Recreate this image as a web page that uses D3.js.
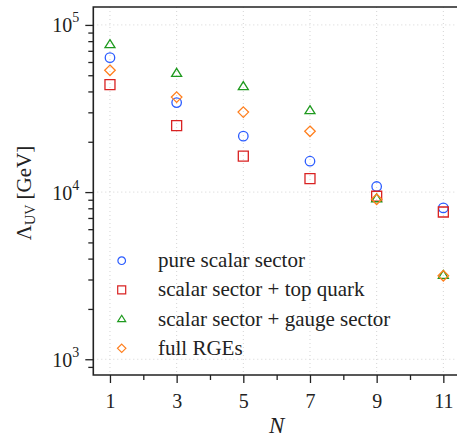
<!DOCTYPE html>
<html>
<head>
<meta charset="utf-8">
<script src="https://cdn.jsdelivr.net/npm/d3@7"></script>
<style>
  html, body { margin: 0; padding: 0; background: #fff; }
  svg { display: block; }
  text { font-family: "Liberation Serif", "Times New Roman", serif; fill: #222; }
</style>
</head>
<body>
<svg id="chart" width="457" height="439"></svg>
<script>
// ---- data ----
const N = [1, 3, 5, 7, 9, 11];
const pureScalar   = [63700, 34300, 21600, 15300, 10800, 8040];
const topQuark     = [43900, 25000, 16400, 12050, 9440, 7600];
const gaugeSector  = [76400, 51500, 42900, 30800, 9150, 3180];
const fullRGEs     = [53500, 37000, 30100, 23100, 9060, 3160];
const seriesNames  = ["pure scalar sector", "scalar sector + top quark", "scalar sector + gauge sector", "full RGEs"];
const xTickValues  = [1, 2, 3, 4, 5, 6, 7, 8, 9, 10, 11];
const xTickLabels  = ["1", "", "3", "", "5", "", "7", "", "9", "", "11"];
const yDecades     = [3, 4, 5];

// ---- layout ----
const svg = d3.select("#chart");
const M = { left: 93.3, right: 460, top: 7, bottom: 375 };

const x = d3.scaleLinear().domain([0.5, 11.5]).range([M.left, M.right]);
const y = d3.scaleLog().domain([805, 128000]).range([M.bottom, M.top]);

const colors = ["#2b5cff", "#d92222", "#1f9a1f", "#ff7f1e"];
const shapes = ["circle", "square", "triangle", "diamond"];

// gridlines (dotted)
const grid = svg.append("g");
grid.selectAll("line.v").data(N).enter().append("line")
  .attr("x1", d => x(d)).attr("x2", d => x(d))
  .attr("y1", M.top).attr("y2", M.bottom)
  .attr("stroke", "#d4d4d4").attr("stroke-width", 1).attr("stroke-dasharray", "1,3");
grid.selectAll("line.h").data(yDecades).enter().append("line")
  .attr("x1", M.left).attr("x2", M.right)
  .attr("y1", d => y(Math.pow(10, d))).attr("y2", d => y(Math.pow(10, d)))
  .attr("stroke", "#d4d4d4").attr("stroke-width", 1).attr("stroke-dasharray", "1,3");

// marker path generator
function markerPath(shape, s) {
  const h = s / 2;
  if (shape === "circle") return d3.symbol().type(d3.symbolCircle).size(Math.PI * h * h * 0.9)();
  if (shape === "square") return `M${-h},${-h}H${h}V${h}H${-h}Z`;
  if (shape === "triangle") {
    const th = s * 0.8;
    return `M0,${-th * 0.6}L${h},${th * 0.4}L${-h},${th * 0.4}Z`;
  }
  if (shape === "diamond") {
    const d = h * 1.05;
    return `M0,${-d}L${d},0L0,${d}L${-d},0Z`;
  }
}

// points
const allSeries = [pureScalar, topQuark, gaugeSector, fullRGEs];
allSeries.forEach((vals, i) => {
  svg.append("g").selectAll("path").data(vals).enter().append("path")
    .attr("transform", (d, j) => `translate(${x(N[j])},${y(d)})`)
    .attr("d", markerPath(shapes[i], 10))
    .attr("fill", "none")
    .attr("stroke", colors[i])
    .attr("stroke-width", 1.3);
});

// x axis
const xAxis = d3.axisBottom(x).tickValues(xTickValues)
  .tickSize(0).tickFormat((d, i) => xTickLabels[i]);
const gx = svg.append("g").attr("transform", `translate(0,${M.bottom})`).call(xAxis);
gx.select(".domain").remove();
gx.selectAll(".tick line").remove();
gx.selectAll(".tick").append("line")
  .attr("y1", 0).attr("y2", (d, i) => (i % 2 === 0 ? 8 : 5))
  .attr("stroke", "#222").attr("stroke-width", 1.3);
gx.selectAll(".tick text")
  .attr("y", 33).attr("dy", 0)
  .attr("font-size", 20).attr("fill", "#222")
  .style("font-family", "'Liberation Serif', serif");

// y axis
const yTickVals = [];
[2, 3, 4].forEach(e => { for (let k = 1; k <= 9; k++) yTickVals.push(k * Math.pow(10, e)); });
yTickVals.push(100000);
const yTicks = yTickVals.filter(v => v >= 805 && v <= 128000);
const yAxis = d3.axisLeft(y).tickValues(yTicks).tickSize(0).tickFormat("");
const gy = svg.append("g").attr("transform", `translate(${M.left},0)`).call(yAxis);
gy.select(".domain").remove();
gy.selectAll(".tick text").remove();
gy.selectAll(".tick line").remove();
const isMajor = v => Math.abs(Math.log10(v) - Math.round(Math.log10(v))) < 1e-9;
gy.selectAll(".tick").append("line")
  .attr("x1", 0).attr("x2", d => (isMajor(d) ? -8 : -5))
  .attr("stroke", "#222").attr("stroke-width", 1.3);
const labs = gy.selectAll(".tick").filter(d => isMajor(d)).append("text")
  .attr("x", -14).attr("y", 7).attr("text-anchor", "end")
  .attr("font-size", 20).attr("fill", "#222");
labs.append("tspan").text("10");
labs.append("tspan").attr("dy", -10).attr("font-size", 14).text(d => Math.round(Math.log10(d)));

// frame: left, top, bottom
svg.append("path")
  .attr("d", `M${M.right},${M.top}H${M.left}V${M.bottom}H${M.right}`)
  .attr("fill", "none").attr("stroke", "#222").attr("stroke-width", 1.6);

// axis titles
svg.append("text")
  .attr("x", x(6)).attr("y", 433)
  .attr("text-anchor", "middle")
  .attr("font-size", 23).attr("font-style", "italic")
  .text("N");

const yl = svg.append("text")
  .attr("transform", `translate(31,${(M.top + M.bottom) / 2 + 2}) rotate(-90)`)
  .attr("text-anchor", "middle")
  .attr("font-size", 21);
yl.append("tspan").text("Λ");
yl.append("tspan").attr("dy", 4).attr("font-size", 14).text("UV");
yl.append("tspan").attr("dy", -4).text(" [GeV]");

// legend
const legendY0 = 260.7, legendDY = 29.2;
const lg = svg.append("g");
seriesNames.forEach((name, i) => {
  const cy = legendY0 + i * legendDY;
  lg.append("path")
    .attr("transform", `translate(121.7,${cy})`)
    .attr("d", markerPath(shapes[i], 8))
    .attr("fill", "none").attr("stroke", colors[i]).attr("stroke-width", 1.2);
  lg.append("text")
    .attr("x", 158).attr("y", cy + 6.5)
    .attr("font-size", 21)
    .text(name);
});
</script>
</body>
</html>
